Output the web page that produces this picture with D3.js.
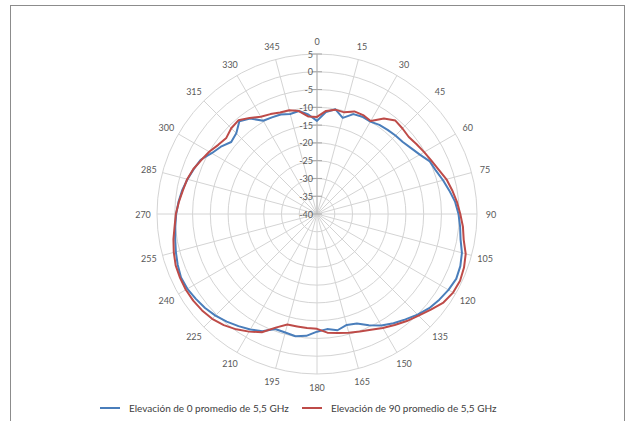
<!DOCTYPE html>
<html>
<head>
<meta charset="utf-8">
<script src="https://cdn.jsdelivr.net/npm/d3@7"></script>
<style>
  html, body { margin: 0; padding: 0; background: #fff; }
  svg { display: block; font-family: Lato, "Open Sans", sans-serif; }
</style>
</head>
<body>
<svg id="chart" width="634" height="421"></svg>
<script>
// Azimuth angles (degrees), sampled every 5°
const angles = d3.range(0, 360, 5);

// Average gain at 5.5 GHz (dB), elevation 0
const elev0 = [
  -13.8, -11.2, -10.1, -12.0, -10.1, -9.8, -10.0, -9.4, -9.1, -8.8, -8.5, -7.7,
  -6.6, -5.0, -4.4, -3.3, -2.2, -1.0, -0.2, 0.4, 1.0, 2.2, 2.9, 3.2,
  2.7, 2.0, 1.2, 0.0, -1.3, -2.5, -3.8, -5.5, -7.2, -7.7, -6.8, -7.5,
  -6.9, -5.6, -5.1, -5.5, -5.6, -3.6, -2.5, -1.5, -0.5, 0.4, 1.1, 1.6,
  2.1, 2.2, 1.7, 1.1, 0.5, 0.0, -0.4, -0.9, -1.5, -2.3, -3.1, -3.9,
  -5.8, -7.0, -8.5, -7.9, -6.0, -7.2, -9.7, -10.0, -10.2, -10.9, -10.6, -11.9
];

// Average gain at 5.5 GHz (dB), elevation 90
const elev90 = [
  -12.7, -10.9, -10.2, -10.4, -9.3, -9.3, -9.8, -7.2, -5.7, -6.0, -6.3, -5.8,
  -5.2, -4.5, -3.6, -2.3, -1.4, -0.5, 0.3, 1.2, 1.9, 3.3, 4.0, 4.4,
  4.2, 3.4, 1.8, 0.4, -0.7, -1.9, -3.0, -4.1, -4.8, -5.4, -6.0, -6.5,
  -7.7, -7.8, -7.9, -7.8, -6.0, -3.3, -1.8, -0.4, 0.8, 1.7, 2.2, 2.5,
  2.6, 2.5, 2.3, 1.7, 1.0, 0.2, -0.3, -1.0, -1.7, -2.2, -3.0, -4.1,
  -5.0, -6.1, -6.7, -5.9, -5.6, -7.0, -8.4, -9.0, -9.6, -9.8, -10.6, -12.5
];

// Radial axis ticks (dB) and azimuth labels
const radialTicks = [-40, -35, -30, -25, -20, -15, -10, -5, 0, 5];
const angleLabels = d3.range(0, 360, 15);

const seriesNames = [
  "Elevación de 0 promedio de 5,5 GHz",
  "Elevación de 90 promedio de 5,5 GHz"
];
const seriesColors = ["#4a7ebb", "#be4b48"];

const svg = d3.select("#chart");
const cx = 317, cy = 214, R = 160;

// Chart area frame
svg.append("rect")
  .attr("x", 10.5).attr("y", 5.5)
  .attr("width", 614).attr("height", 430)
  .attr("fill", "none").attr("stroke", "#8c8c8c").attr("stroke-width", 1);

const r = d3.scaleLinear().domain([-40, 5]).range([0, R]);
const theta = d3.scaleLinear().domain([0, 360]).range([0, 2 * Math.PI]);

const g = svg.append("g").attr("transform", `translate(${cx},${cy})`);

// Concentric gridlines
g.selectAll("circle.ring")
  .data(radialTicks.slice(1))
  .join("circle")
  .attr("class", "ring")
  .attr("r", d => r(d))
  .attr("fill", "none")
  .attr("stroke", "#d4d4d4")
  .attr("stroke-width", 1);

// Spokes
g.selectAll("line.spoke")
  .data(angleLabels)
  .join("line")
  .attr("class", "spoke")
  .attr("x1", 0).attr("y1", 0)
  .attr("x2", d => R * Math.sin(theta(d)))
  .attr("y2", d => -R * Math.cos(theta(d)))
  .attr("stroke", "#d4d4d4")
  .attr("stroke-width", 1);

// Azimuth labels
g.selectAll("text.ang")
  .data(angleLabels)
  .join("text")
  .attr("class", "ang")
  .attr("x", d => (R + 14) * Math.sin(theta(d)))
  .attr("y", d => -(R + 13) * Math.cos(theta(d)))
  .attr("text-anchor", "middle")
  .attr("dominant-baseline", "central")
  .attr("font-size", 9)
  .attr("fill", "#595959")
  .text(d => d);

// Radial value axis
g.append("line")
  .attr("x1", 0).attr("y1", 0)
  .attr("x2", 0).attr("y2", -R)
  .attr("stroke", "#bfbfbf")
  .attr("stroke-width", 1.2);

g.selectAll("line.tick")
  .data(radialTicks)
  .join("line")
  .attr("class", "tick")
  .attr("x1", -5).attr("x2", 5)
  .attr("y1", d => -r(d)).attr("y2", d => -r(d))
  .attr("stroke", "#a6a6a6")
  .attr("stroke-width", 1);

g.selectAll("text.rad")
  .data(radialTicks)
  .join("text")
  .attr("class", "rad")
  .attr("x", -4)
  .attr("y", d => -r(d))
  .attr("text-anchor", "end")
  .attr("dominant-baseline", "central")
  .attr("font-size", 9)
  .attr("fill", "#595959")
  .text(d => d);

// Pattern traces
const line = d3.lineRadial()
  .angle((d, i) => theta(angles[i]))
  .radius(d => r(d))
  .curve(d3.curveLinearClosed);

[elev0, elev90].forEach((vals, k) => {
  g.append("path")
    .datum(vals)
    .attr("d", line)
    .attr("fill", "none")
    .attr("stroke", seriesColors[k])
    .attr("stroke-width", 2)
    .attr("stroke-linejoin", "round");
});

// Legend
const legend = svg.append("g").attr("transform", "translate(0,408)");
const legendX = [100, 302];
seriesNames.forEach((name, k) => {
  const item = legend.append("g").attr("transform", `translate(${legendX[k]},0)`);
  item.append("line")
    .attr("x1", 0).attr("x2", 20).attr("y1", 0).attr("y2", 0)
    .attr("stroke", seriesColors[k]).attr("stroke-width", 2);
  item.append("text")
    .attr("x", 29).attr("y", 0)
    .attr("dominant-baseline", "central")
    .attr("font-size", 10)
    .attr("fill", "#404040")
    .text(name);
});
</script>
</body>
</html>
